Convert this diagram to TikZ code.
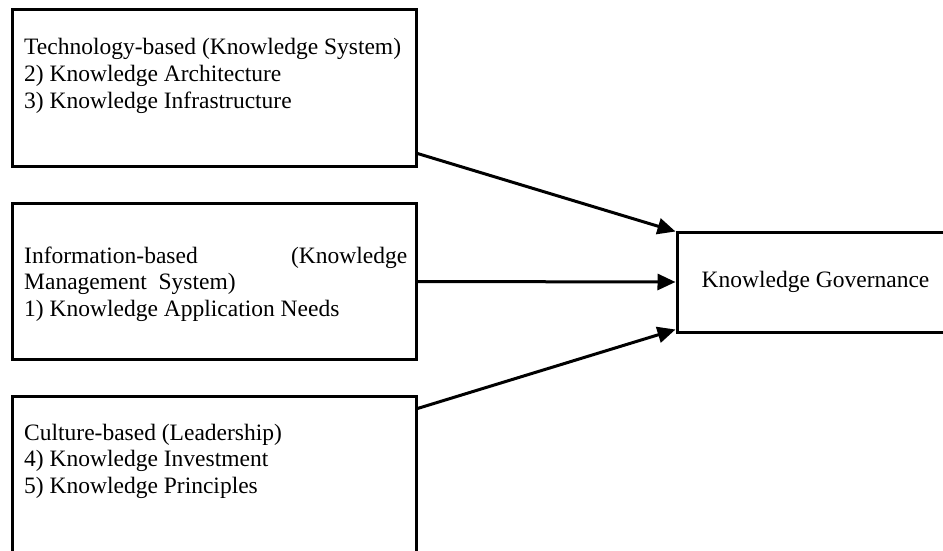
\documentclass[tikz,border=0pt]{standalone}
\usepackage{fontspec}
\setmainfont{Liberation Serif}
\usetikzlibrary{arrows.meta}
\tikzset{
  box/.style={draw,line width=3pt,minimum width=404pt,minimum height=156pt,inner sep=0pt},
  boxtext/.style={anchor=base west,align=flush left,text width=383pt,inner sep=0pt,font=\fontsize{23.5}{26.7}\selectfont},
  arrow/.style={line width=3pt,-{Triangle[length=18pt,width=16pt]}}
}
\begin{document}
\begin{tikzpicture}[x=1pt,y=-1pt]
\path[use as bounding box,clip] (0,0) rectangle (943,551);
% left column
\node[box] (tech) at (214,88) {};
\node[box] (info) at (214,281.5) {};
\node[box,minimum height=160pt] (cult) at (214,476) {};
\node[boxtext] (techtxt) at (24,55) {Technology-based (Knowledge System)\\2) Knowledge Architecture\\3) Knowledge Infrastructure};
\node[boxtext] (infotxt) at (24,263) {Information-based\hspace{0pt plus 1filll}(Knowledge\\Management\ \ System)\\1) Knowledge Application Needs};
\node[boxtext] (culttxt) at (24,440) {Culture-based (Leadership)\\4) Knowledge Investment\\5) Knowledge Principles};
% right side
\node[box,minimum width=277pt,minimum height=100pt,font=\fontsize{23.5}{26.7}\selectfont] (gov) at (815.5,282) {Knowledge Governance};
\draw[arrow] ([yshift=14pt]tech.south east) -- ([yshift=-1pt]gov.north west);
\draw[arrow] (info.east) -- (gov.west);
\draw[arrow] ([yshift=-14pt]cult.north east) -- ([yshift=4pt]gov.south west);
\end{tikzpicture}
\end{document}
